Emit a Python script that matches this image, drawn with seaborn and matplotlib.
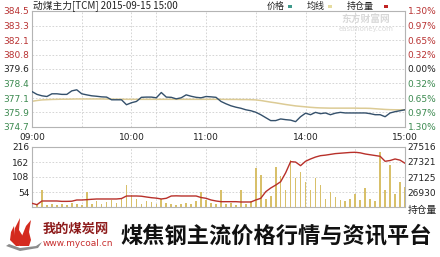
import matplotlib
matplotlib.use("Agg")
import matplotlib.pyplot as plt
from matplotlib.patches import Polygon, Rectangle
import seaborn as sns

sns.set_theme(style="white")
plt.rcParams['font.family'] = ['Noto Sans CJK SC', 'DejaVu Sans']

# trading minutes from the open (09:00-10:15, 10:30-11:30, 13:30-15:00), 3-minute steps
minutes = list(range(0, 226, 3))

price = [377.68, 377.44, 377.32, 377.26, 377.49, 377.49, 377.44, 377.44, 377.74, 377.83,
         377.49, 377.40, 377.32, 377.28, 377.23, 377.21, 376.98, 376.98, 376.98, 376.56,
         376.73, 376.84, 377.19, 377.21, 377.21, 377.15, 377.60, 377.21, 377.19, 377.06,
         377.15, 377.40, 377.28, 377.19, 377.15, 377.26, 377.23, 377.19, 376.84, 376.64,
         376.47, 376.35, 376.26, 376.13, 376.05, 375.92, 375.71, 375.46, 375.21, 375.21,
         375.35, 375.29, 375.25, 375.12, 375.54, 375.84, 375.71, 375.91, 375.80, 375.86,
         375.71, 375.84, 375.91, 375.86, 375.86, 375.86, 375.86, 375.86, 375.80, 375.71,
         375.71, 375.54, 375.86, 375.97, 376.05, 376.13]

avg_price = [376.85, 376.92, 376.97, 376.99, 377.01, 377.02, 377.03, 377.03, 377.04, 377.05,
             377.05, 377.05, 377.05, 377.05, 377.05, 377.04, 377.04, 377.03, 377.03, 377.02,
             377.02, 377.02, 377.02, 377.02, 377.02, 377.02, 377.02, 377.02, 377.02, 377.02,
             377.02, 377.02, 377.02, 377.02, 377.02, 377.02, 377.02, 377.02, 377.02, 377.01,
             377.01, 377.01, 377.00, 377.00, 376.99, 376.97, 376.92, 376.85, 376.78, 376.72,
             376.65, 376.58, 376.52, 376.46, 376.42, 376.38, 376.34, 376.31, 376.29, 376.28,
             376.27, 376.27, 376.27, 376.27, 376.27, 376.27, 376.26, 376.26, 376.25, 376.22,
             376.19, 376.16, 376.14, 376.13, 376.13, 376.13]

open_interest = [26783, 26765, 26813, 26813, 26813, 26813, 26808, 26808, 26810, 26826,
                 26826, 26830, 26835, 26839, 26839, 26839, 26839, 26839, 26845, 26878,
                 26878, 26878, 26875, 26865, 26856, 26850, 26839, 26848, 26878, 26880,
                 26878, 26878, 26878, 26878, 26858, 26848, 26826, 26813, 26804, 26804,
                 26804, 26804, 26800, 26800, 26800, 26826, 26848, 26934, 26982, 27020,
                 27064, 27180, 27325, 27320, 27273, 27330, 27360, 27385, 27403, 27410,
                 27420, 27430, 27435, 27440, 27445, 27447, 27440, 27425, 27415, 27405,
                 27395, 27330, 27340, 27360, 27345, 27304]

volume = [55, 12, 60, 8, 10, 6, 12, 8, 15, 10,
          8, 55, 12, 20, 10, 18, 25, 15, 30, 79,
          45, 30, 12, 20, 18, 10, 28, 15, 12, 8,
          10, 14, 10, 20, 55, 25, 15, 12, 61, 10,
          15, 8, 61, 12, 20, 140, 115, 30, 40, 145,
          110, 60, 169, 104, 127, 91, 61, 104, 79, 30,
          55, 35, 25, 20, 30, 47, 25, 68, 30, 20,
          199, 60, 151, 47, 91, 72]

prev_settle = 379.6
pct_levels = [1.30, 0.97, 0.65, 0.32, 0.00, -0.32, -0.65, -0.97, -1.30]
vol_ticks = [54, 108, 162, 216]
oi_ticks = [26930, 27125.3, 27320.7, 27516]
time_ticks = [0, 60, 105, 165, 225]
time_labels = ["09:00", "10:00", "11:00", "14:00", "15:00"]
grid_minutes = [30, 60, 75, 105, 135, 165, 195]

C_PRICE = "#34506b"
C_AVG = "#dccb95"
C_OI = "#b8302a"
C_VOL = "#d8c06a"
C_UP = "#b83232"
C_DOWN = "#3c8a50"
C_GRID = "#cfcfcf"
C_FRAME = "#b4b4b4"
FS = 6.5

fig = plt.figure(figsize=(4.4, 2.57), dpi=100)
fig.patch.set_facecolor("white")


def frame(ax):
    for s in ax.spines.values():
        s.set_color(C_FRAME)
        s.set_linewidth(0.8)
    ax.set_facecolor("white")
    for m in grid_minutes:
        ax.axvline(m, color=C_GRID, lw=0.6, ls=(0, (2, 2)), zorder=0)


# ---- price panel ----
ax1 = fig.add_axes([32 / 440, 1 - 127 / 257, 373 / 440, 116 / 257])
frame(ax1)
lo = prev_settle * (1 - 0.013)
hi = prev_settle * (1 + 0.013)
price_levels = [prev_settle * (1 + p / 100) for p in pct_levels]
for v in price_levels:
    ax1.axhline(v, color=C_GRID, lw=0.6, ls=(0, (2, 2)), zorder=0)
sns.lineplot(x=minutes, y=avg_price, ax=ax1, color=C_AVG, lw=1.1, zorder=2)
sns.lineplot(x=minutes, y=price, ax=ax1, color=C_PRICE, lw=1.0, zorder=3)
ax1.set_xlim(0, 225)
ax1.set_ylim(lo, hi)
ax1.set_yticks(price_levels)
ax1.set_yticklabels([f"{v:.1f}" for v in price_levels], fontsize=FS, family="DejaVu Sans")
ax1.set_xticks(time_ticks)
ax1.set_xticklabels(time_labels, fontsize=FS, family="DejaVu Sans", color="#222222")
ax1.tick_params(axis="both", length=0, pad=2)
ax1.tick_params(axis="x", pad=4)
ax1.set_xlabel("")
ax1.set_ylabel("")


def level_color(p):
    if p > 0:
        return C_UP
    if p < 0:
        return C_DOWN
    return "#222222"


for lab, p in zip(ax1.get_yticklabels(), pct_levels):
    lab.set_color(level_color(p))

ax1r = ax1.twinx()
ax1r.set_ylim(lo, hi)
ax1r.set_yticks(price_levels)
ax1r.set_yticklabels([f"{abs(p):.2f}%" for p in pct_levels], fontsize=FS, family="DejaVu Sans")
ax1r.tick_params(axis="y", length=0, pad=2)
for lab, p in zip(ax1r.get_yticklabels(), pct_levels):
    lab.set_color(level_color(p))
for s in ax1r.spines.values():
    s.set_visible(False)

# ---- volume / open interest panel ----
ax2 = fig.add_axes([32 / 440, 1 - 207 / 257, 373 / 440, 60 / 257])
frame(ax2)
for v in vol_ticks[:-1]:
    ax2.axhline(v, color=C_GRID, lw=0.6, ls=(0, (2, 2)), zorder=0)
ax2.bar(minutes, volume, width=1.0, color=C_VOL, linewidth=0, zorder=2)
ax2.set_xlim(0, 225)
ax2.set_ylim(0, 216)
ax2.set_yticks(vol_ticks)
ax2.set_yticklabels([str(v) for v in vol_ticks], fontsize=FS, family="DejaVu Sans", color="#222222")
ax2.set_xticks([])
ax2.tick_params(axis="y", length=0, pad=2)

ax2r = ax2.twinx()
sns.lineplot(x=minutes, y=open_interest, ax=ax2r, color=C_OI, lw=1.0, zorder=3)
ax2r.set_ylim(26930 - 54 * (27516 - 26930) / 162, 27516)
ax2r.set_yticks(oi_ticks)
ax2r.set_yticklabels([f"{v:.0f}" for v in oi_ticks], fontsize=FS, family="DejaVu Sans", color="#222222")
ax2r.tick_params(axis="y", length=0, pad=2)
ax2r.set_xlim(0, 225)
ax2r.set_ylabel("")
for s in ax2r.spines.values():
    s.set_visible(False)

# ---- header, legend, watermark and footer drawn in pixel space ----
ov = fig.add_axes([0, 0, 1, 1], zorder=10)
ov.set_xlim(0, 440)
ov.set_ylim(257, 0)
ov.axis("off")

ov.text(33, 6, "动煤主力[TCM] 2015-09-15 15:00", fontsize=7, color="#222222",
        va="center", ha="left")
legend_items = [("价格", 267, 288, "#3f9a8c"), ("均线", 307, 328, "#e6dca0"), ("持仓量", 347, 384, "#c02424")]
for name, tx, sx, col in legend_items:
    ov.text(tx, 6, name, fontsize=6.5, color="#222222", va="center", ha="left")
    ov.add_patch(Rectangle((sx, 4.5), 4, 3.5, color=col, lw=0))

ov.text(366, 19, "东方财富网", fontsize=7, color="#d4d4d4", ha="center", va="center",
        fontweight="bold", alpha=0.9)
ov.text(366, 29, "eastmoney.com", fontsize=5, color="#d6d6d6", ha="center", va="center",
        family="DejaVu Sans", alpha=0.9)

ov.text(437, 210, "持仓量", fontsize=7, color="#222222", ha="right", va="center")

# footer logo: flame and swoosh
flame_shapes = [
    [(20, 246), (14, 238), (15, 228), (20, 218), (19, 230), (24, 238), (26, 246)],
    [(24, 246), (22, 236), (26, 226), (31, 220), (29, 232), (31, 240), (29, 246)],
    [(16, 246), (10, 240), (11, 232), (14, 226), (15, 236), (20, 246)],
]
for pts in flame_shapes:
    ov.add_patch(Polygon(pts, closed=True, color="#d42a1e", lw=0))
ov.add_patch(Polygon([(6, 246), (20, 251), (38, 248), (42, 242), (36, 246), (20, 248), (9, 244)],
                     closed=True, color="#8c8c8c", lw=0))

ov.text(43, 229, "我的煤炭网", fontsize=9.5, color="#8e1c1c", ha="left", va="center",
        fontweight="bold")
ov.text(43, 244, "www.mycoal.cn", fontsize=6.5, color="#c83030", ha="left", va="center",
        family="DejaVu Sans")
ov.text(432, 236, "煤焦钢主流价格行情与资讯平台", fontsize=16, color="#111111",
        ha="right", va="center", fontweight="bold")

fig.savefig("out.png", dpi=100, facecolor="white")
